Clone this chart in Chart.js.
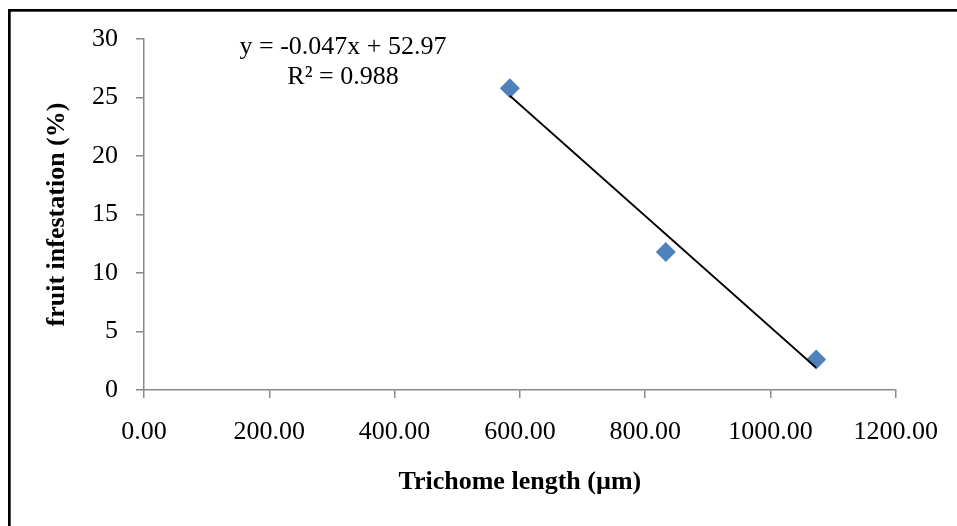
<!DOCTYPE html>
<html>
<head>
<meta charset="utf-8">
<script src="https://cdn.jsdelivr.net/npm/chart.js@4/dist/chart.umd.min.js"></script>
<style>
  html, body { margin: 0; padding: 0; background: #ffffff; }
  #wrap { width: 957px; height: 526px; position: relative; }
</style>
</head>
<body>
<div id="wrap"><canvas id="c" width="957" height="526"></canvas></div>
<script>
// ---- data ----
const trichomeLength = [584, 833, 1073];          // x values (µm)
const fruitInfestation = [25.8, 11.8, 2.6];       // y values (%)
const trendX = [584, 1073];                        // trendline end points (x)
const trendY = [25.15, 1.9];                       // trendline end points (y)
const xTicks = [0, 200, 400, 600, 800, 1000, 1200];
const yTicks = [0, 5, 10, 15, 20, 25, 30];
const equationLines = ['y = -0.047x + 52.97', 'R² = 0.988'];
const xTitle = 'Trichome length (µm)';
const yTitle = 'fruit infestation (%)';

const FONT = '"Liberation Serif", "Times New Roman", serif';
const AXIS_GRAY = '#898989';

const points = trichomeLength.map((x, i) => ({ x: x, y: fruitInfestation[i] }));
const trend = trendX.map((x, i) => ({ x: x, y: trendY[i] }));

const framePlugin = {
  id: 'frame',
  beforeDraw(chart) {
    const ctx = chart.ctx;
    ctx.save();
    ctx.fillStyle = '#ffffff';
    ctx.fillRect(0, 0, chart.width, chart.height);
    ctx.fillStyle = '#000000';
    ctx.fillRect(8, 9, chart.width - 8, 2.7);
    ctx.fillRect(8, 9, 2.7, chart.height - 9);
    ctx.restore();
  },
  afterDatasetsDraw(chart) {
    const ctx = chart.ctx;
    const a = chart.chartArea;
    ctx.save();
    ctx.fillStyle = '#000000';
    ctx.font = '26px ' + FONT;
    ctx.textAlign = 'center';
    ctx.textBaseline = 'alphabetic';
    const cx = a.left + 199;
    ctx.fillText(equationLines[0], cx, a.top + 15);
    ctx.fillText(equationLines[1], cx, a.top + 45);
    ctx.restore();
  }
};

new Chart(document.getElementById('c'), {
  type: 'scatter',
  data: {
    datasets: [
      {
        label: 'Linear trend',
        type: 'line',
        data: trend,
        borderColor: '#000000',
        borderWidth: 1.75,
        pointRadius: 0,
        fill: false,
        tension: 0,
        order: 0
      },
      {
        label: 'fruit infestation',
        data: points,
        pointStyle: 'rectRot',
        pointRadius: 10,
        pointHoverRadius: 10,
        backgroundColor: '#4F81BD',
        borderColor: '#4F81BD',
        pointBorderWidth: 0,
        order: 1
      }
    ]
  },
  options: {
    responsive: false,
    animation: false,
    devicePixelRatio: 1,
    layout: { padding: { top: 39, right: 61, left: 0, bottom: 0 } },
    plugins: {
      legend: { display: false },
      tooltip: { enabled: false }
    },
    scales: {
      x: {
        type: 'linear',
        min: xTicks[0],
        max: xTicks[xTicks.length - 1],
        afterBuildTicks(scale) { scale.ticks = xTicks.map(v => ({ value: v })); },
        afterFit(scale) { scale.height = 136; },
        ticks: {
          color: '#000000',
          font: { family: FONT, size: 26 },
          padding: 19,
          maxRotation: 0,
          autoSkip: false,
          callback: v => Number(v).toFixed(2)
        },
        grid: {
          drawOnChartArea: false,
          drawTicks: true,
          tickLength: 8,
          color: AXIS_GRAY,
          lineWidth: 1.5
        },
        border: { display: true, color: AXIS_GRAY, width: 1.5 },
        title: {
          display: true,
          text: xTitle,
          color: '#000000',
          font: { family: FONT, size: 26, weight: 'bold' },
          padding: { top: 0, bottom: 28 }
        }
      },
      y: {
        type: 'linear',
        min: yTicks[0],
        max: yTicks[yTicks.length - 1],
        afterBuildTicks(scale) { scale.ticks = yTicks.map(v => ({ value: v })); },
        afterFit(scale) { scale.width = 144; },
        ticks: {
          color: '#000000',
          font: { family: FONT, size: 26 },
          padding: 18,
          autoSkip: false
        },
        grid: {
          drawOnChartArea: false,
          drawTicks: true,
          tickLength: 8,
          color: AXIS_GRAY,
          lineWidth: 1.5
        },
        border: { display: true, color: AXIS_GRAY, width: 1.5 },
        title: {
          display: true,
          text: yTitle,
          color: '#000000',
          font: { family: FONT, size: 26, weight: 'bold' },
          padding: { top: 42, bottom: 0 }
        }
      }
    }
  },
  plugins: [framePlugin]
});
</script>
</body>
</html>
